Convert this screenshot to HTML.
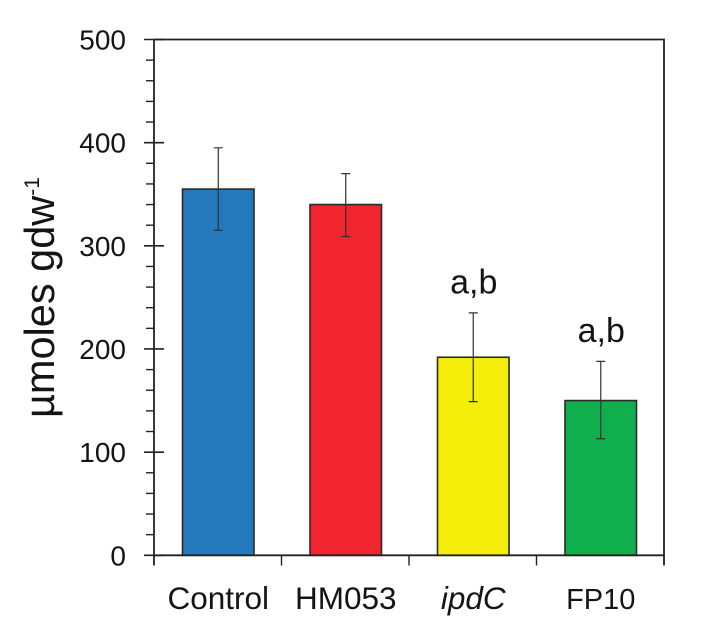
<!DOCTYPE html>
<html>
<head>
<meta charset="utf-8">
<style>
html,body{margin:0;padding:0;background:#fff;width:703px;height:631px;overflow:hidden}
svg{display:block;font-family:"Liberation Sans",sans-serif;fill:#141414}
</style>
</head>
<body>
<svg id="chart" width="703" height="631" viewBox="0 0 703 631" xmlns="http://www.w3.org/2000/svg"></svg>
<script>
const categories = ['Control', 'HM053', 'ipdC', 'FP10'];
const values = [355, 340, 192, 150];
const errorsUp = [40, 30, 43, 38];
const errorsDown = [40, 31, 43, 37];
const barColors = ['#2478bc', '#f0252d', '#f5ee0a', '#10af4e'];
const significance = ['', '', 'a,b', 'a,b'];
const yTickLabels = [0, 100, 200, 300, 400, 500];
const yMinorTicks = [20, 40, 60, 80, 120, 140, 160, 180, 220, 240, 260, 280, 320, 340, 360, 380, 420, 440, 460, 480];

const plotLeft = 154, plotRight = 664, plotTop = 39.5, plotBottom = 555.3;
const yMax = 500, barWidth = 71.5;
const NS = 'http://www.w3.org/2000/svg';
const svg = document.getElementById('chart');
const yScale = v => plotBottom - (v / yMax) * (plotBottom - plotTop);
const band = (plotRight - plotLeft) / categories.length;
const xScale = i => plotLeft + band * (i + 0.5) + 0.5;

function make(tag, attrs, parent) {
  const el = document.createElementNS(NS, tag);
  for (const k in attrs) el.setAttribute(k, attrs[k]);
  (parent || svg).appendChild(el);
  return el;
}

categories.forEach((c, i) => {
  const bar = make('rect', {x: xScale(i) - barWidth / 2, y: yScale(values[i]), width: barWidth, height: plotBottom - yScale(values[i]), fill: barColors[i], stroke: '#2a2a2a', 'stroke-width': 1.6});
  
  

  const hi = yScale(values[i] + errorsUp[i]), lo = yScale(values[i] - errorsDown[i]);
  const err = make('path', {d: `M${xScale(i)} ${hi}V${lo}M${xScale(i) - 4.5} ${hi}H${xScale(i) + 4.5}M${xScale(i) - 4.5} ${lo}H${xScale(i) + 4.5}`, fill: 'none', stroke: '#333', 'stroke-width': 1.2});
  
  

  const label = make('text', {x: xScale(i), y: 609, 'text-anchor': 'middle', 'font-size': c === 'FP10' ? 29 : 31.5});
  if (c === 'ipdC') label.setAttribute('font-style', 'italic');
  label.textContent = c;
  
  

  if (significance[i]) {
    const sig = make('text', {x: xScale(i) + 0.5, y: hi - 19.5, 'text-anchor': 'middle', 'font-size': 34});
    sig.textContent = significance[i];
    
    
  }
});

const frame = make('path', {d: `M${plotLeft} ${plotTop}H${plotRight}V565.5M${plotLeft} ${plotTop}V565.5M${plotLeft} ${plotBottom}H${plotRight}`, fill: 'none', stroke: '#222', 'stroke-width': 1.8});



yTickLabels.forEach(v => {
  const tick = make('line', {x1: plotLeft - 10, x2: plotLeft + 10, y1: yScale(v), y2: yScale(v), stroke: '#222', 'stroke-width': 1.6});
  
  
  const t = make('text', {x: 126, y: yScale(v) + 10, 'text-anchor': 'end', 'font-size': 28});
  t.textContent = v;
  
  
});

yMinorTicks.forEach(v => {
  const tick = make('line', {x1: plotLeft - 8, x2: plotLeft, y1: yScale(v), y2: yScale(v), stroke: '#222', 'stroke-width': 1.4});
  
  
});

categories.forEach((c, i) => {
  if (i === 0) return;
  const px = plotLeft + band * i;
  const tick = make('line', {x1: px, x2: px, y1: plotBottom, y2: 565.5, stroke: '#222', 'stroke-width': 1.4});
  
  
});

const title = make('text', {transform: 'translate(54,418) rotate(-90)', 'font-size': 41.5});


title.textContent = 'µmoles gdw';
const sup = make('tspan', {'font-size': 21, dy: -15}, title);
sup.textContent = '-1';
</script>
</body>
</html>
